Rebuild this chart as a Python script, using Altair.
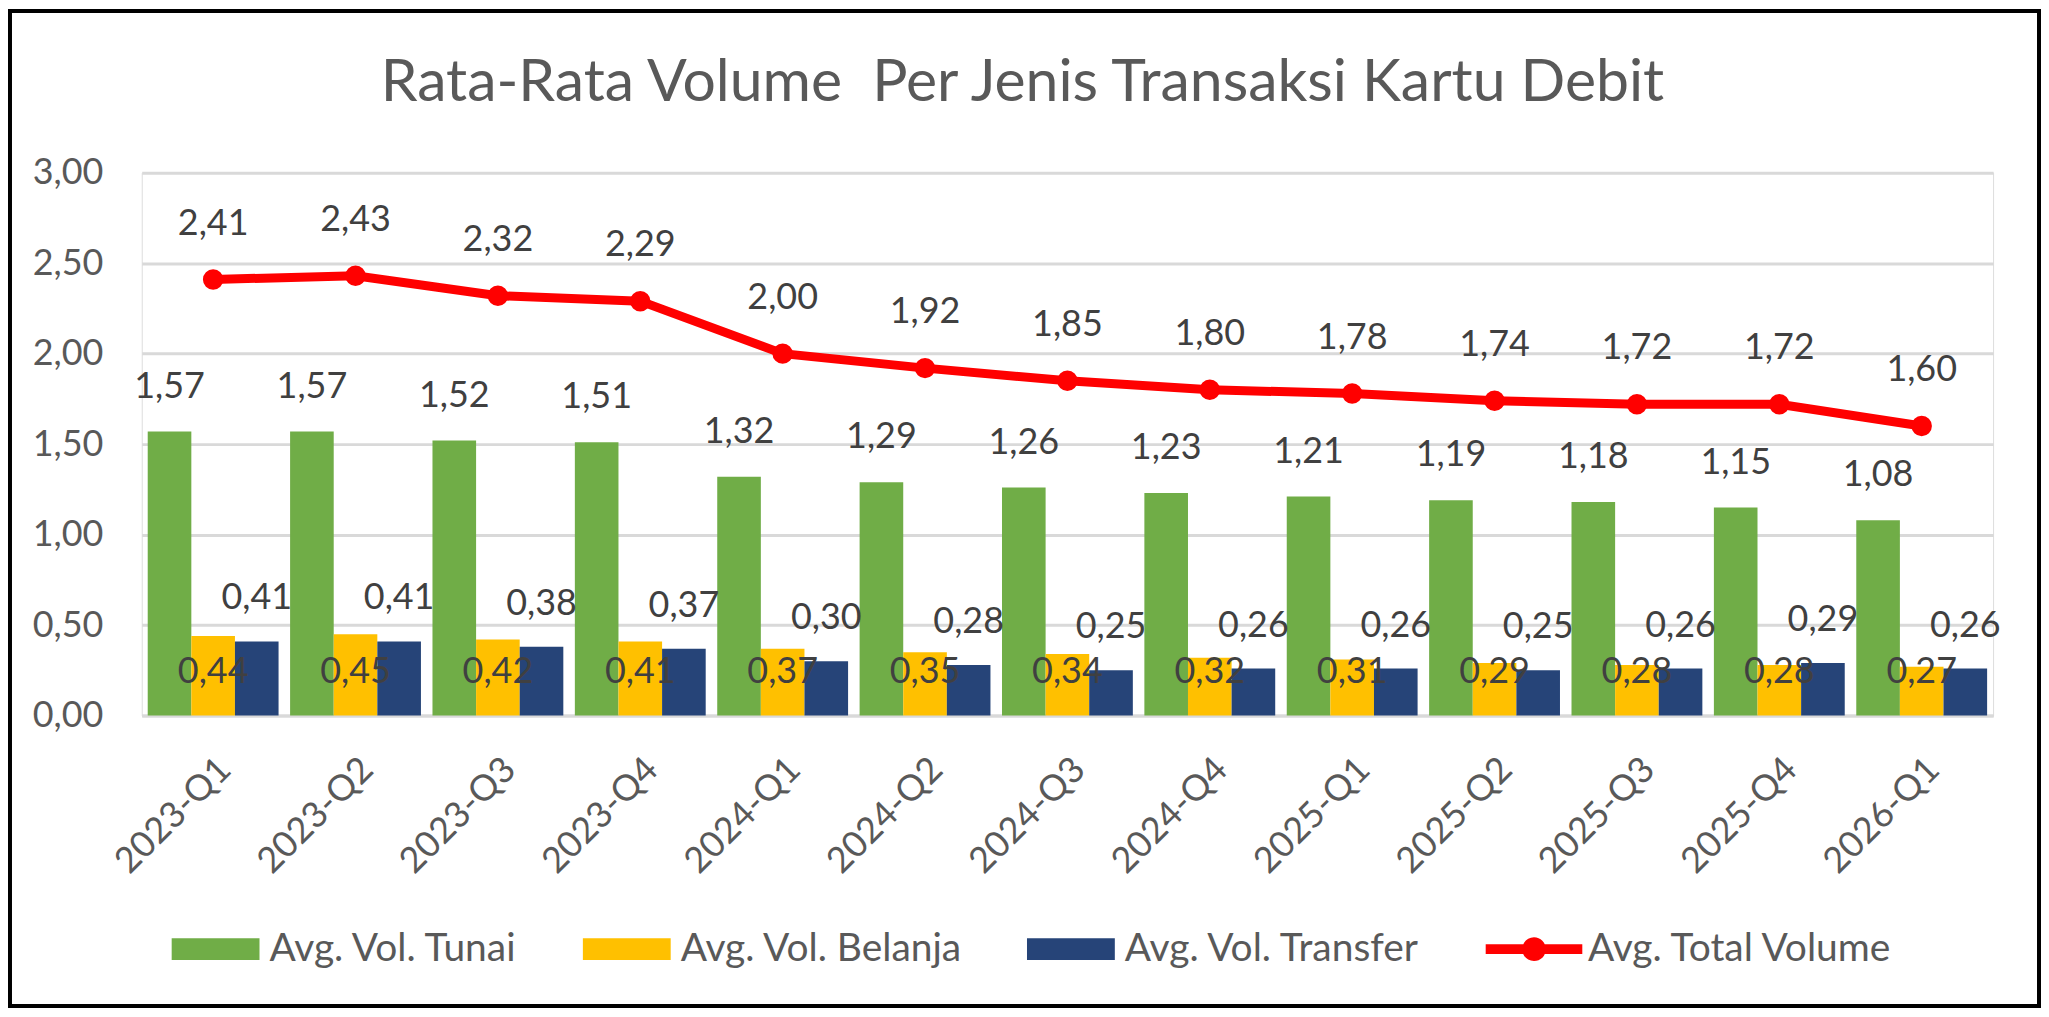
import altair as alt
import pandas as pd

quarters = [
    "2023-Q1", "2023-Q2", "2023-Q3", "2023-Q4",
    "2024-Q1", "2024-Q2", "2024-Q3", "2024-Q4",
    "2025-Q1", "2025-Q2", "2025-Q3", "2025-Q4",
    "2026-Q1",
]
tunai = [1.57, 1.57, 1.52, 1.51, 1.32, 1.29, 1.26, 1.23, 1.21, 1.19, 1.18, 1.15, 1.08]
belanja = [0.44, 0.45, 0.42, 0.41, 0.37, 0.35, 0.34, 0.32, 0.31, 0.29, 0.28, 0.28, 0.27]
transfer = [0.41, 0.41, 0.38, 0.37, 0.30, 0.28, 0.25, 0.26, 0.26, 0.25, 0.26, 0.29, 0.26]
total = [2.41, 2.43, 2.32, 2.29, 2.00, 1.92, 1.85, 1.80, 1.78, 1.74, 1.72, 1.72, 1.60]

bar_names = ["Avg. Vol. Tunai", "Avg. Vol. Belanja", "Avg. Vol. Transfer"]
line_name = "Avg. Total Volume"
all_names = bar_names + [line_name]
colors = ["#70AD47", "#FFC000", "#264478", "#FF0000"]
y_ticks = [0, 0.5, 1.0, 1.5, 2.0, 2.5, 3.0]

FONT = "Lato"
W, H = 1855, 544
PAD = {"left": 134, "top": 164, "right": 48, "bottom": 293}

bars_df = pd.DataFrame({
    "quarter": quarters * 3,
    "series": [n for n in bar_names for _ in quarters],
    "value": tunai + belanja + transfer,
})
total_df = pd.DataFrame({"quarter": quarters, "series": line_name, "value": total})

comma = "replace(format(datum.value, '.2f'), '.', ',')"

x_enc = alt.X(
    "quarter:N",
    sort=quarters,
    title=None,
    scale=alt.Scale(type="band", domain=quarters, paddingInner=0.081, paddingOuter=0.042),
    axis=alt.Axis(
        labelAngle=-45, labelFont=FONT, labelFontSize=36, labelColor="#595959",
        labelPadding=36, ticks=False, domainColor="#D9D9D9", domainWidth=3,
        grid=False,
    ),
)
y_enc = alt.Y(
    "value:Q",
    title=None,
    scale=alt.Scale(domain=[0, 3], nice=False, zero=True),
    axis=alt.Axis(
        values=y_ticks, labelExpr=comma, labelFont=FONT, labelFontSize=36,
        labelColor="#595959", labelPadding=39, ticks=False, domain=False,
        gridColor="#D9D9D9", gridWidth=3,
    ),
)
off_enc = alt.XOffset("series:N", sort=bar_names,
                      scale=alt.Scale(domain=bar_names, paddingInner=0, paddingOuter=0))
color_scale = alt.Scale(domain=all_names, range=colors)

rect_path = "M-1,-0.25H1V0.25H-1Z"
line_path = ("M-1.1,-0.11H1.1V0.11H-1.1Z "
             "M-0.27,0A0.27,0.27 0 1,1 0.27,0A0.27,0.27 0 1,1 -0.27,0Z")

legend = alt.Legend(
    orient="none", legendX=30, legendY=734, direction="horizontal", title=None,
    labelFont=FONT, labelFontSize=39, labelColor="#595959", labelLimit=600,
    symbolSize=7744, symbolStrokeWidth=0, symbolOpacity=1, labelOffset=10,
    columnPadding=64, padding=0,
)

bars = alt.Chart(bars_df).mark_bar().encode(
    x=x_enc, xOffset=off_enc, y=y_enc,
    color=alt.Color("series:N", scale=color_scale, legend=legend),
)

line = alt.Chart(total_df).mark_line(color="#FF0000", strokeWidth=9).encode(x=x_enc, y=y_enc)
dots = alt.Chart(total_df).mark_point(filled=True, opacity=1, color="#FF0000", size=420).encode(x=x_enc, y=y_enc)

legend_layer = alt.Chart(total_df).mark_point(filled=True, opacity=0).encode(
    x=x_enc, y=y_enc,
    color=alt.Color("series:N", scale=color_scale, legend=legend),
    shape=alt.Shape("series:N", scale=alt.Scale(domain=all_names,
                    range=[rect_path, rect_path, rect_path, line_path]), legend=legend),
)

text_style = dict(font=FONT, fontSize=36, color="#404040", baseline="middle", align="center")


def bar_labels(name, dy, at_base=False):
    y = alt.datum(0) if at_base else y_enc
    return (
        alt.Chart(bars_df)
        .transform_filter(alt.datum.series == name)
        .transform_calculate(label=comma)
        .mark_text(dy=dy, **text_style)
        .encode(x=x_enc, xOffset=off_enc, y=y, text="label:N")
    )


tunai_text = bar_labels("Avg. Vol. Tunai", -45)
belanja_text = bar_labels("Avg. Vol. Belanja", -44, at_base=True)
transfer_text = bar_labels("Avg. Vol. Transfer", -43)

total_text = (
    alt.Chart(total_df)
    .transform_calculate(label=comma)
    .mark_text(dy=-56, **text_style)
    .encode(x=x_enc, y=y_enc, text="label:N")
)

frame = alt.Chart(pd.DataFrame({"f": [0]})).mark_rect(
    fillOpacity=0, stroke="#000000", strokeWidth=4
).encode(
    x=alt.value(-PAD["left"] + 2), x2=alt.value(W + PAD["right"] - 2),
    y=alt.value(-PAD["top"] + 2), y2=alt.value(H + PAD["bottom"] - 2),
)

chart = (
    alt.layer(bars, line, dots, legend_layer, tunai_text, belanja_text, transfer_text, total_text, frame)
    .resolve_scale(x="shared", y="shared", color="shared")
    .properties(
        width=W, height=H, padding=PAD,
        autosize=alt.AutoSizeParams(type="none"),
        title=alt.TitleParams(
            "Rata-Rata Volume \u00a0Per Jenis Transaksi Kartu Debit",
            font=FONT, fontSize=59, fontWeight="normal", color="#595959",
            anchor="middle", dx=-45, offset=-151, baseline="alphabetic",
        ),
    )
    .configure_view(strokeWidth=0)
    .configure(background="white")
)

chart.save("out.html", embed_options={"renderer": "svg", "actions": False})
